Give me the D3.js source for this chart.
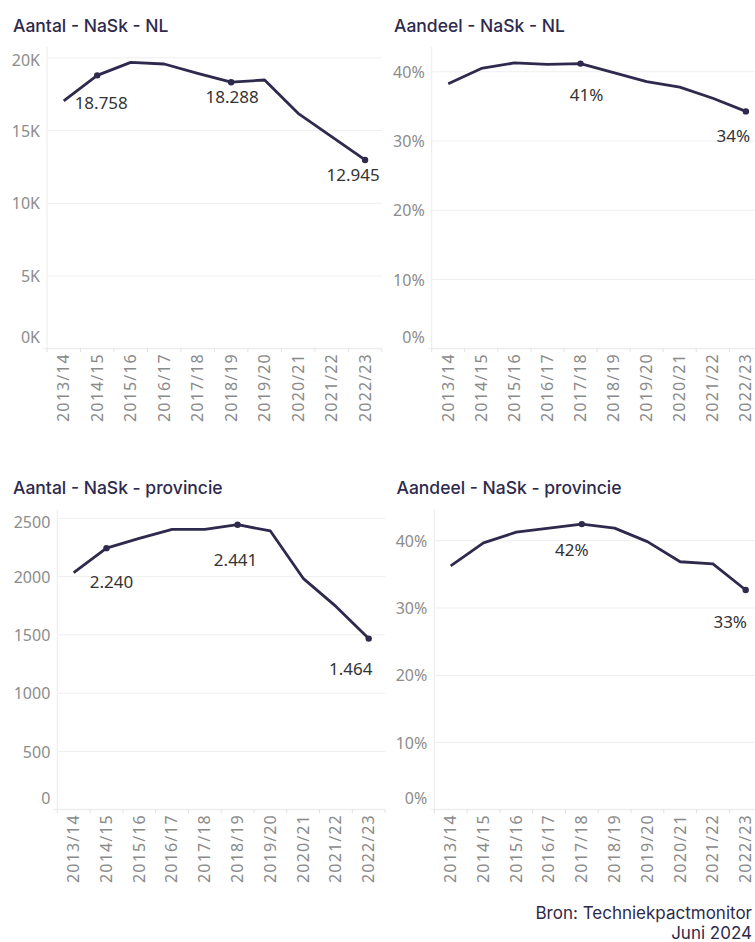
<!DOCTYPE html>
<html>
<head>
<meta charset="utf-8">
<script src="https://cdn.jsdelivr.net/npm/d3@7"></script>
<style>
  body { margin: 0; background: #fff; }
  svg { display: block; font-family: "Noto Sans", sans-serif; }
</style>
</head>
<body>
<svg width="755" height="942"></svg>
<script>
// data
var seasons = ["2013/14", "2014/15", "2015/16", "2016/17", "2017/18",
               "2018/19", "2019/20", "2020/21", "2021/22", "2022/23"];
var aantalNL     = [17000, 18758, 19650, 19540, 18900, 18288, 18440, 16150, 14550, 12945];
var aandeelNL    = [38.2, 40.4, 41.2, 41.0, 41.1, 39.8, 38.5, 37.7, 36.1, 34.2];
var aantalProv   = [2029, 2240, 2324, 2401, 2400, 2441, 2387, 1981, 1740, 1464];
var aandeelProv  = [36.2, 39.6, 41.2, 41.8, 42.4, 41.8, 39.8, 36.8, 36.5, 32.6];
var ticksAantalNL   = [0, 5000, 10000, 15000, 20000];
var ticksAantalProv = [0, 500, 1000, 1500, 2000, 2500];
var ticksAandeel    = [0, 10, 20, 30, 40];

var nl = d3.formatLocale({decimal: ",", thousands: ".", grouping: [3], currency: ["€", ""]});
var fmtCount = nl.format(",");
var fmtK = d => (d / 1000) + "K";
var fmtPct = d => Math.round(d) + "%";

var svg = d3.select("svg");
var ink = "#2e2a4d";
var headFont = "Inter, 'Noto Sans', sans-serif";

var panels = [
  {title: "Aantal - NaSk - NL", tx: 13, ty: 32, values: aantalNL, ticks: ticksAantalNL,
   max: 20708, tickFmt: fmtK, labelFmt: fmtCount,
   x0: 47, x1: 381.8, top: 47, bottom: 348.3,
   labels: [{i: 1, dx: 4, dy: 34}, {i: 5, dx: 1, dy: 21}, {i: 9, dx: -12, dy: 21}]},
  {title: "Aandeel - NaSk - NL", tx: 394, ty: 32, values: aandeelNL, ticks: ticksAandeel,
   max: 43.5, tickFmt: fmtPct, labelFmt: fmtPct,
   x0: 431.7, x1: 762.4, top: 47, bottom: 348.3,
   labels: [{i: 4, dx: 6, dy: 37}, {i: 9, dx: -12.5, dy: 31}]},
  {title: "Aantal - NaSk - provincie", tx: 13, ty: 493.5, values: aantalProv, ticks: ticksAantalProv,
   max: 2573, tickFmt: d => d, labelFmt: fmtCount,
   x0: 57.3, x1: 385.1, top: 509.3, bottom: 809.3,
   labels: [{i: 1, dx: 5, dy: 40}, {i: 5, dx: -2, dy: 41}, {i: 9, dx: -18, dy: 36}]},
  {title: "Aandeel - NaSk - provincie", tx: 396.5, ty: 493.5, values: aandeelProv, ticks: ticksAandeel,
   max: 44.6, tickFmt: fmtPct, labelFmt: fmtPct,
   x0: 434.3, x1: 762.1, top: 509.3, bottom: 809.3,
   labels: [{i: 4, dx: -10, dy: 32}, {i: 9, dx: -15.5, dy: 37.5}]}
];

panels.forEach(drawPanel);

function drawPanel(p) {
  var g = svg.append("g");
  var x = d3.scaleBand().domain(seasons).range([p.x0, p.x1]);
  var y = d3.scaleLinear().domain([0, p.max]).range([p.bottom, p.top]);
  var cx = d => x(d) + x.bandwidth() / 2;

  g.append("text")
    .attr("x", p.tx).attr("y", p.ty)
    .attr("fill", ink)
    .style("font-family", headFont)
    .style("font-size", "17.5px").style("font-weight", 500)
    .text(p.title);

  // y axis with gridlines
  var yAxis = g.append("g")
    .attr("transform", "translate(" + p.x0 + ",0)")
    .call(d3.axisLeft(y).tickValues(p.ticks).tickFormat(p.tickFmt)
      .tickSize(-(p.x1 - p.x0)).tickPadding(7));
  yAxis.select(".domain").remove();
  yAxis.selectAll(".tick line").attr("stroke", "#efefef");
  yAxis.selectAll(".tick text")
    .attr("fill", "#8c8c8c")
    .style("font-size", "16px").style("font-family", "Noto Sans")
    .attr("dy", null)
    .attr("y", d => Math.min(Math.max(y(d) + 6, p.top + 18), p.bottom - 5.5) - y(d));

  g.append("line")
    .attr("x1", p.x0).attr("x2", p.x0).attr("y1", p.top).attr("y2", p.bottom)
    .attr("stroke", "#ececec");
  g.append("line")
    .attr("x1", p.x0 - 4).attr("x2", p.x1).attr("y1", p.bottom).attr("y2", p.bottom)
    .attr("stroke", "#ececec");

  // x axis: rotated season labels, ticks at band edges
  var xAxis = g.append("g")
    .attr("transform", "translate(0," + p.bottom + ")")
    .call(d3.axisBottom(x).tickSize(0).tickPadding(0));
  xAxis.select(".domain").remove();
  xAxis.selectAll(".tick text")
    .attr("fill", "#8a8a8a")
    .style("font-size", "16px").style("font-family", "Noto Sans")
    .style("letter-spacing", "1.1px")
    .attr("transform", "rotate(-90)")
    .attr("x", -5).attr("y", 0).attr("dy", "0.34em")
    .style("text-anchor", "end");

  g.selectAll(".edge")
    .data(seasons.map(d => x(d)).concat([p.x1]))
    .enter().append("line")
    .attr("x1", d => d).attr("x2", d => d)
    .attr("y1", p.bottom).attr("y2", p.bottom + 4)
    .attr("stroke", "#e2e2e2");

  var line = d3.line()
    .x((d, i) => cx(seasons[i]))
    .y(d => y(d));

  g.append("path")
    .datum(p.values)
    .attr("d", line)
    .attr("fill", "none")
    .attr("stroke", ink)
    .attr("stroke-width", 2.8)
    .attr("stroke-linejoin", "round");

  g.selectAll(".mark")
    .data(p.labels)
    .enter().append("circle")
    .attr("cx", d => cx(seasons[d.i]))
    .attr("cy", d => y(p.values[d.i]))
    .attr("r", 3.2)
    .attr("fill", ink);

  g.selectAll(".lbl")
    .data(p.labels)
    .enter().append("text")
    .attr("x", d => cx(seasons[d.i]) + d.dx)
    .attr("y", d => y(p.values[d.i]) + d.dy)
    .attr("text-anchor", "middle")
    .attr("fill", "#333")
    .style("font-size", "17px")
    .text(d => p.labelFmt(p.values[d.i]));
}

svg.append("text")
  .attr("x", 752).attr("y", 918.5)
  .attr("text-anchor", "end")
  .attr("fill", ink)
  .style("font-family", headFont)
  .style("font-size", "17px")
  .text("Bron: Techniekpactmonitor");
svg.append("text")
  .attr("x", 752).attr("y", 938.5)
  .attr("text-anchor", "end")
  .attr("fill", ink)
  .style("font-family", headFont)
  .style("font-size", "17px")
  .text("Juni 2024");
</script>
</body>
</html>
